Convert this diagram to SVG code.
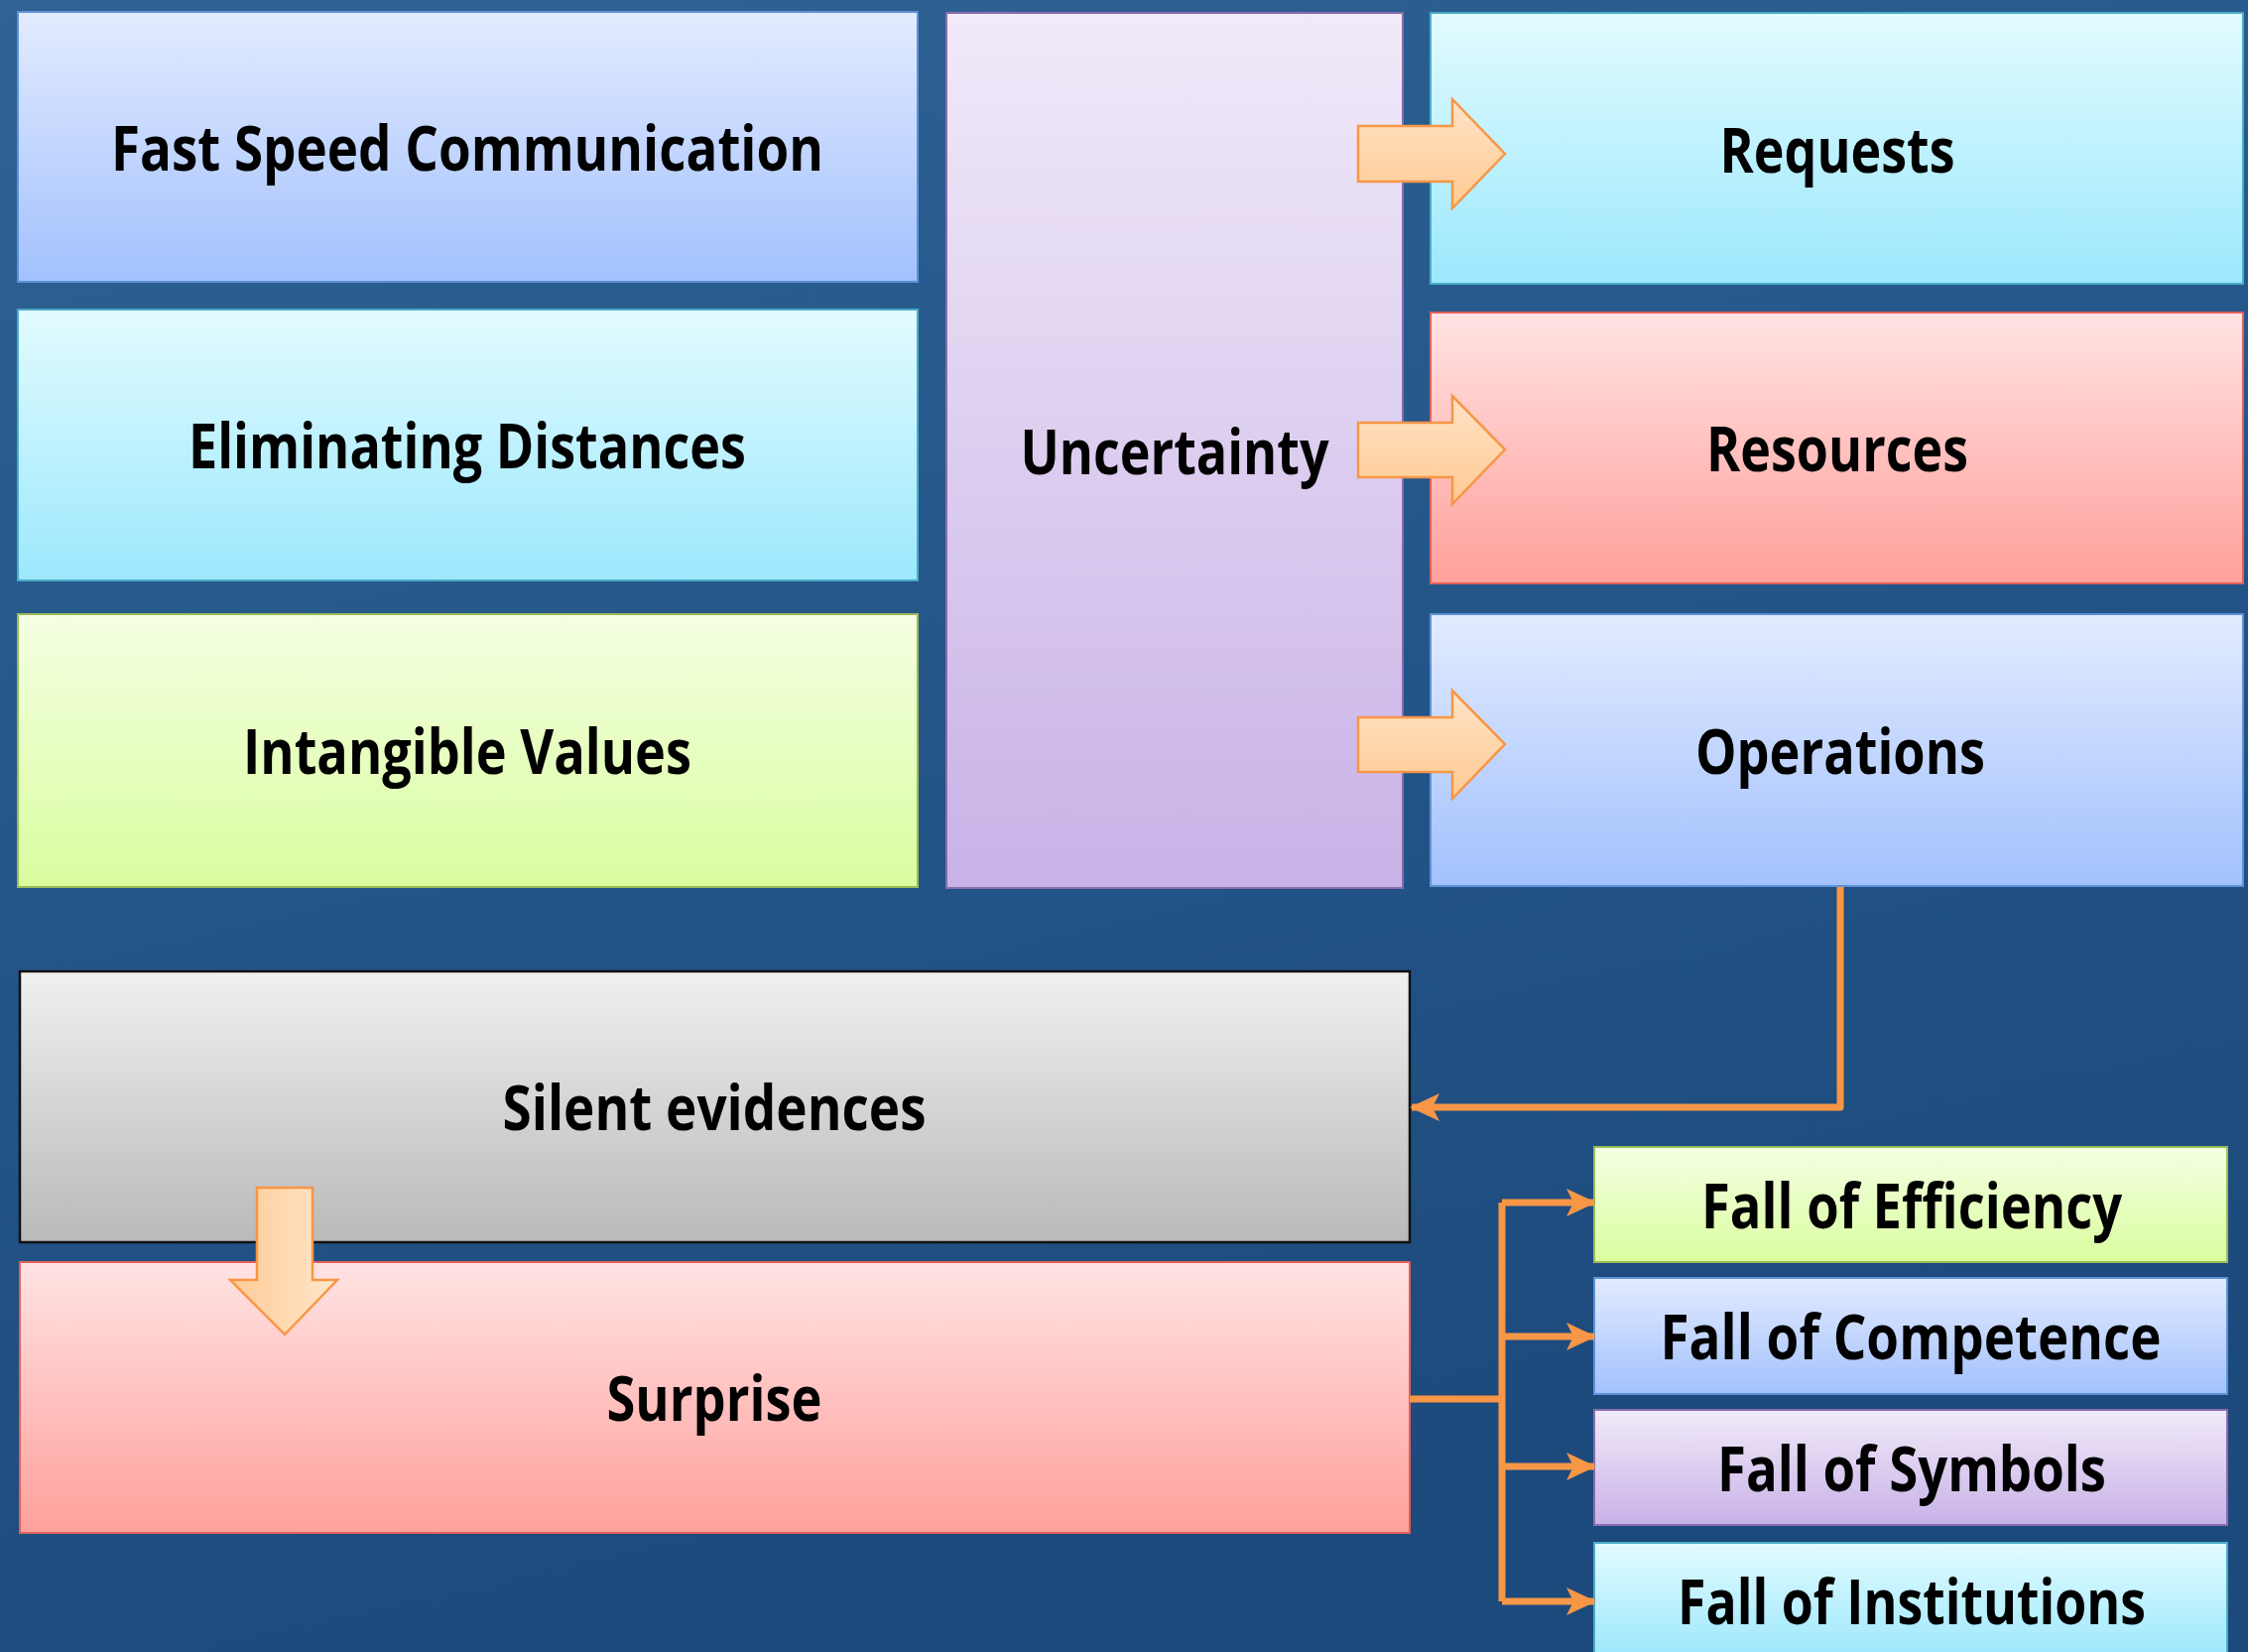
<svg xmlns="http://www.w3.org/2000/svg" width="2266" height="1665" viewBox="0 0 2266 1665">
<defs>
<linearGradient id="bg" x1="0" y1="0" x2="0.3" y2="1">
<stop offset="0" stop-color="#2f6393"/>
<stop offset="0.5" stop-color="#24568a"/>
<stop offset="1" stop-color="#1d4a7c"/>
</linearGradient>
<linearGradient id="gBlue" x1="0" y1="0" x2="0" y2="1"><stop offset="0" stop-color="#e3ebff"/><stop offset="1" stop-color="#a2c1fd"/></linearGradient>
<linearGradient id="gCyan" x1="0" y1="0" x2="0" y2="1"><stop offset="0" stop-color="#e2fbff"/><stop offset="1" stop-color="#9ce8fd"/></linearGradient>
<linearGradient id="gGreen" x1="0" y1="0" x2="0" y2="1"><stop offset="0" stop-color="#f4ffe2"/><stop offset="1" stop-color="#dafd9f"/></linearGradient>
<linearGradient id="gPurple" x1="0" y1="0" x2="0" y2="1"><stop offset="0" stop-color="#f1eaf9"/><stop offset="1" stop-color="#c8b2e7"/></linearGradient>
<linearGradient id="gRed" x1="0" y1="0" x2="0" y2="1"><stop offset="0" stop-color="#ffe3e3"/><stop offset="1" stop-color="#ffa09b"/></linearGradient>
<linearGradient id="gGray" x1="0" y1="0" x2="0" y2="1"><stop offset="0" stop-color="#f0f0f0"/><stop offset="1" stop-color="#b9b9b9"/></linearGradient>
<linearGradient id="gArrowR" x1="0" y1="0" x2="0" y2="1"><stop offset="0" stop-color="#ffe3c6"/><stop offset="1" stop-color="#ffca92"/></linearGradient>
<linearGradient id="gArrowD" x1="1" y1="0" x2="0" y2="0"><stop offset="0" stop-color="#ffe6cc"/><stop offset="1" stop-color="#ffcb95"/></linearGradient>
<marker id="ah" markerUnits="userSpaceOnUse" markerWidth="30" markerHeight="30" viewBox="0 0 30 30" refX="28" refY="15" orient="auto">
<path d="M0,1 L30,15 L0,29 L7,15 Z" fill="#f79646"/>
</marker>
</defs>
<style>
.lbl{font-family:"Open Sans","Noto Sans","Liberation Sans",sans-serif;font-weight:700;font-size:62px;fill:#000;text-anchor:middle}
.box{stroke-width:2}
.blue{fill:url(#gBlue);stroke:#5f91d8}
.cyan{fill:url(#gCyan);stroke:#4bacc6}
.green{fill:url(#gGreen);stroke:#9bbb59}
.purple{fill:url(#gPurple);stroke:#8a6cad}
.red{fill:url(#gRed);stroke:#e0605a}
.gray{fill:url(#gGray);stroke:#111;stroke-width:2.5}
.barrow{stroke:#f79646;stroke-width:2.5}
.conn{fill:none;stroke:#f79646;stroke-width:7;stroke-linejoin:round}
</style>
<rect x="0" y="0" width="2266" height="1665" fill="url(#bg)"/>

<g id="fast-speed"><rect class="box blue" x="18" y="12" width="907" height="272"/><text class="lbl" x="471" y="172" textLength="718" lengthAdjust="spacingAndGlyphs">Fast Speed Communication</text></g>
<g id="eliminating"><rect class="box cyan" x="18" y="312" width="907" height="273"/><text class="lbl" x="471" y="472" textLength="562" lengthAdjust="spacingAndGlyphs">Eliminating Distances</text></g>
<g id="intangible"><rect class="box green" x="18" y="619" width="907" height="275"/><text class="lbl" x="471" y="780" textLength="452" lengthAdjust="spacingAndGlyphs">Intangible Values</text></g>
<g id="uncertainty"><rect class="box purple" x="954" y="13" width="460" height="882"/><text class="lbl" x="1184" y="478" textLength="311" lengthAdjust="spacingAndGlyphs">Uncertainty</text></g>
<g id="requests"><rect class="box cyan" x="1442" y="13" width="819" height="273"/><text class="lbl" x="1852" y="174" textLength="237" lengthAdjust="spacingAndGlyphs">Requests</text></g>
<g id="resources"><rect class="box red" x="1442" y="315" width="819" height="273"/><text class="lbl" x="1852" y="475" textLength="264" lengthAdjust="spacingAndGlyphs">Resources</text></g>
<g id="operations"><rect class="box blue" x="1442" y="619" width="819" height="274"/><text class="lbl" x="1855" y="780" textLength="292" lengthAdjust="spacingAndGlyphs">Operations</text></g>
<g id="silent-evidences"><rect class="box gray" x="20" y="979" width="1401" height="273"/><text class="lbl" x="720" y="1139" textLength="427" lengthAdjust="spacingAndGlyphs">Silent evidences</text></g>
<g id="surprise"><rect class="box red" x="20" y="1272" width="1401" height="273"/><text class="lbl" x="720" y="1432" textLength="217" lengthAdjust="spacingAndGlyphs">Surprise</text></g>
<g id="fall-efficiency"><rect class="box green" x="1607" y="1156" width="638" height="116"/><text class="lbl" x="1927" y="1238" textLength="424" lengthAdjust="spacingAndGlyphs">Fall of Efficiency</text></g>
<g id="fall-competence"><rect class="box blue" x="1607" y="1288" width="638" height="117"/><text class="lbl" x="1926" y="1370" textLength="505" lengthAdjust="spacingAndGlyphs">Fall of Competence</text></g>
<g id="fall-symbols"><rect class="box purple" x="1607" y="1421" width="638" height="116"/><text class="lbl" x="1927" y="1503" textLength="392" lengthAdjust="spacingAndGlyphs">Fall of Symbols</text></g>
<g id="fall-institutions"><rect class="box cyan" x="1607" y="1555" width="638" height="116"/><text class="lbl" x="1927" y="1637" textLength="472" lengthAdjust="spacingAndGlyphs">Fall of Institutions</text></g>

<g id="connectors">
<path class="barrow" fill="url(#gArrowR)" d="M1369,127 L1464,127 L1464,100 L1517,155 L1464,210 L1464,183 L1369,183 Z"/>
<path class="barrow" fill="url(#gArrowR)" d="M1369,426 L1464,426 L1464,399 L1517,453 L1464,508 L1464,481 L1369,481 Z"/>
<path class="barrow" fill="url(#gArrowR)" d="M1369,723 L1464,723 L1464,696 L1517,750 L1464,805 L1464,778 L1369,778 Z"/>
<path class="barrow" fill="url(#gArrowD)" d="M259,1197 L315,1197 L315,1290 L340,1290 L287,1345 L232,1290 L259,1290 Z"/>
<path class="conn" d="M1855,894 L1855,1116 L1423,1116" marker-end="url(#ah)"/>
<path class="conn" d="M1421,1410 L1514,1410"/>
<path class="conn" d="M1514,1212 L1514,1614"/>
<path class="conn" d="M1514,1212 L1607,1212" marker-end="url(#ah)"/>
<path class="conn" d="M1514,1347 L1607,1347" marker-end="url(#ah)"/>
<path class="conn" d="M1514,1478 L1607,1478" marker-end="url(#ah)"/>
<path class="conn" d="M1514,1614 L1607,1614" marker-end="url(#ah)"/>
</g>
</svg>
